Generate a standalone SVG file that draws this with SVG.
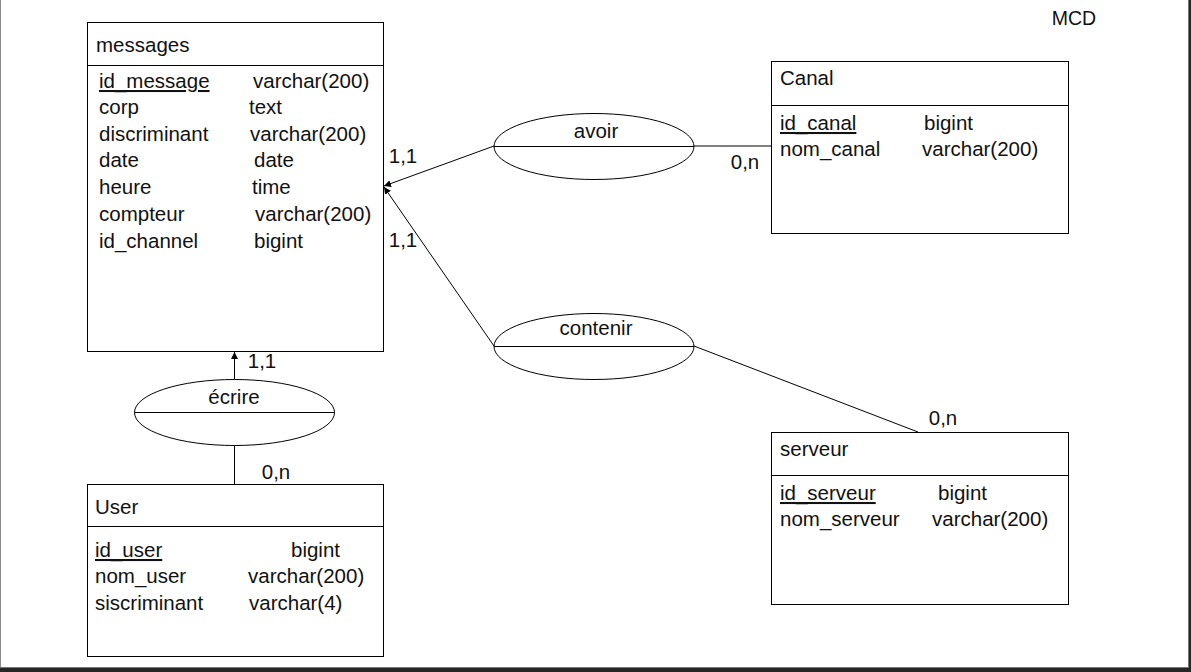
<svg xmlns="http://www.w3.org/2000/svg" width="1191" height="672" viewBox="0 0 1191 672">
  <defs>
    <marker id="arrow" viewBox="0 0 10 10" refX="10" refY="5" markerWidth="7" markerHeight="7" markerUnits="userSpaceOnUse" orient="auto">
      <path d="M0,0 L10,5 L0,10 z" fill="#000"/>
    </marker>
    <style>
      text { font-family: "Liberation Sans", Arial, sans-serif; font-size: 20.5px; fill: #111; }
      .box { fill: #fff; stroke: #000; stroke-width: 1; }
      .sep { stroke: #000; stroke-width: 1; }
      .link { fill: none; stroke: #000; stroke-width: 1; }
      .rel { fill: #fff; stroke: #000; stroke-width: 1; }
      .key { text-decoration: underline; }
      .mid { text-anchor: middle; }
    </style>
  </defs>

  <!-- page background and frame -->
  <rect x="0" y="0" width="1191" height="672" fill="#fff"/>
  <line x1="0.5" y1="0" x2="0.5" y2="668" stroke="#8a8a8a" stroke-width="1"/>
  <rect x="1188" y="0" width="3" height="672" fill="#262626"/>
  <line x1="1188.5" y1="0" x2="1188.5" y2="668" stroke="#777" stroke-width="1"/>
  <rect x="0" y="667" width="1191" height="5" fill="#262626"/>
  <line x1="0" y1="667.5" x2="1189" y2="667.5" stroke="#777" stroke-width="1"/>

  <text x="1074" y="25" class="mid" style="font-size:19.5px">MCD</text>

  <!-- connectors -->
  <g id="connectors">
    <line class="link" x1="494" y1="146" x2="384" y2="186" marker-end="url(#arrow)"/>
    <line class="link" x1="694" y1="146" x2="771" y2="146"/>
    <line class="link" x1="494" y1="346" x2="384" y2="187" marker-end="url(#arrow)"/>
    <line class="link" x1="694" y1="346" x2="918" y2="432"/>
    <line class="link" x1="234.5" y1="379" x2="234.5" y2="352" marker-end="url(#arrow)"/>
    <line class="link" x1="234.5" y1="445" x2="234.5" y2="484"/>
    <text x="403" y="163" class="mid">1,1</text>
    <text x="745" y="169" class="mid">0,n</text>
    <text x="403" y="247" class="mid">1,1</text>
    <text x="943" y="425" class="mid">0,n</text>
    <text x="262" y="368" class="mid">1,1</text>
    <text x="276" y="479" class="mid">0,n</text>
  </g>

  <!-- entity: messages -->
  <g id="messages">
    <rect class="box" x="87.5" y="22.5" width="296" height="329"/>
    <line class="sep" x1="87.5" y1="65.5" x2="383.5" y2="65.5"/>
    <text x="96" y="52">messages</text>
    <text x="99" y="88" class="key">id_message</text><text x="253" y="88">varchar(200)</text>
    <text x="99" y="114">corp</text><text x="249" y="114">text</text>
    <text x="99" y="141">discriminant</text><text x="250" y="141">varchar(200)</text>
    <text x="99" y="167">date</text><text x="254" y="167">date</text>
    <text x="99" y="194">heure</text><text x="252" y="194">time</text>
    <text x="99" y="221">compteur</text><text x="255" y="221">varchar(200)</text>
    <text x="99" y="248">id_channel</text><text x="254" y="248">bigint</text>
  </g>

  <!-- entity: Canal -->
  <g id="canal">
    <rect class="box" x="771.5" y="61.5" width="297" height="172"/>
    <line class="sep" x1="771.5" y1="105.5" x2="1068.5" y2="105.5"/>
    <text x="780" y="85">Canal</text>
    <text x="780" y="130" class="key">id_canal</text><text x="924" y="130">bigint</text>
    <text x="780" y="156">nom_canal</text><text x="922" y="156">varchar(200)</text>
  </g>

  <!-- entity: serveur -->
  <g id="serveur">
    <rect class="box" x="771.5" y="432.5" width="297" height="172"/>
    <line class="sep" x1="771.5" y1="475.5" x2="1068.5" y2="475.5"/>
    <text x="780" y="456">serveur</text>
    <text x="780" y="500" class="key">id_serveur</text><text x="938" y="500">bigint</text>
    <text x="780" y="526">nom_serveur</text><text x="932" y="526">varchar(200)</text>
  </g>

  <!-- entity: User -->
  <g id="user">
    <rect class="box" x="87.5" y="484.5" width="296" height="172"/>
    <line class="sep" x1="87.5" y1="526.5" x2="383.5" y2="526.5"/>
    <text x="95" y="514">User</text>
    <text x="95" y="557" class="key">id_user</text><text x="291" y="557">bigint</text>
    <text x="95" y="583">nom_user</text><text x="248" y="583">varchar(200)</text>
    <text x="95" y="610">siscriminant</text><text x="249" y="610">varchar(4)</text>
  </g>

  <!-- association: avoir -->
  <g id="avoir">
    <ellipse class="rel" cx="594" cy="146.5" rx="100" ry="33"/>
    <line class="sep" x1="494" y1="146.5" x2="694" y2="146.5"/>
    <text x="596" y="138" class="mid">avoir</text>
  </g>

  <!-- association: contenir -->
  <g id="contenir">
    <ellipse class="rel" cx="594" cy="346.5" rx="100" ry="33"/>
    <line class="sep" x1="494" y1="346.5" x2="694" y2="346.5"/>
    <text x="596" y="335" class="mid">contenir</text>
  </g>

  <!-- association: écrire -->
  <g id="ecrire">
    <ellipse class="rel" cx="234.5" cy="412.5" rx="100" ry="33"/>
    <line class="sep" x1="134.5" y1="412.5" x2="334.5" y2="412.5"/>
    <text x="234" y="404" class="mid">écrire</text>
  </g>
</svg>
